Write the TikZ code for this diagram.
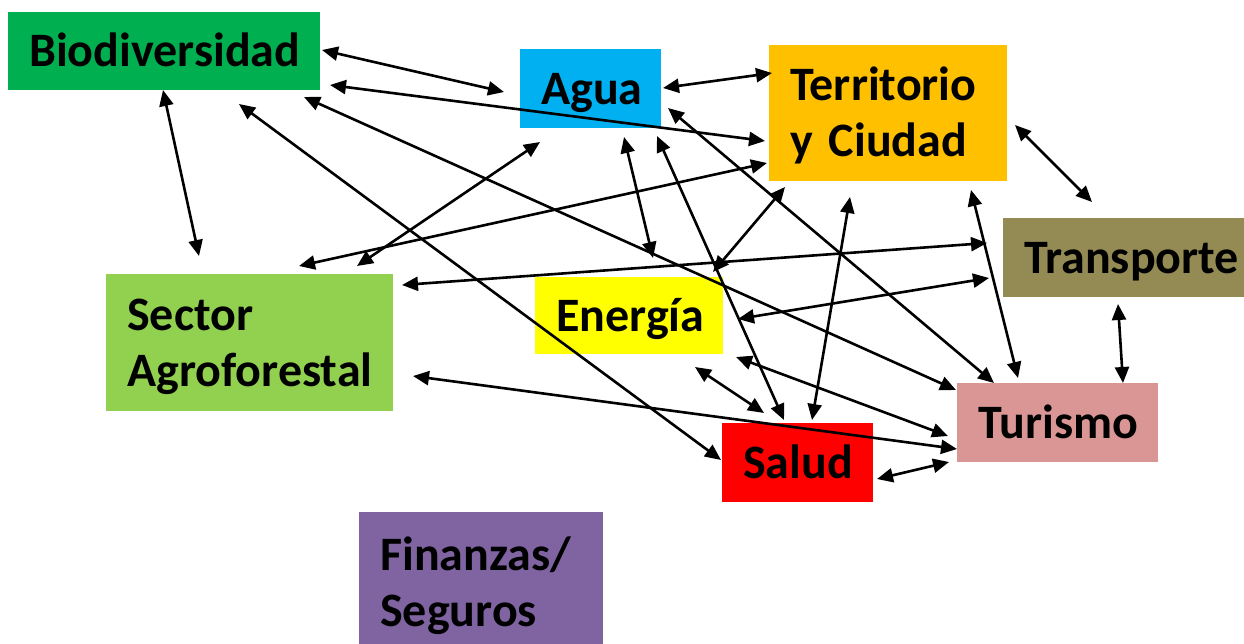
\documentclass[tikz,border=0pt]{standalone}
\usepackage{fontspec}
\setmainfont{Carlito}
\usetikzlibrary{arrows.meta}
\definecolor{cbio}{HTML}{00B050}
\definecolor{cagua}{HTML}{00B0F0}
\definecolor{cterr}{HTML}{FFC000}
\definecolor{ctrans}{HTML}{948A54}
\definecolor{csect}{HTML}{92D050}
\definecolor{cener}{HTML}{FFFF00}
\definecolor{ctur}{HTML}{DA9694}
\definecolor{csal}{HTML}{FF0000}
\definecolor{cfin}{HTML}{8064A2}
\tikzset{
  box/.style={rectangle, anchor=north west, inner xsep=21pt, inner ysep=0pt,
    align=left, font=\fontsize{48}{56}\selectfont\bfseries,
    text height=31pt, text depth=0pt},
  twoline/.style={text depth=56pt},
  arr/.style={{Triangle[length=16pt,width=14pt]}-{Triangle[length=16pt,width=14pt]}, line width=2.6pt, black}
}
\begin{document}
\begin{tikzpicture}[x=1pt,y=-1pt]
\useasboundingbox (0,0) rectangle (1244,643);
% boxes
\node[box, fill=cbio, minimum width=312pt, minimum height=78pt, text width=270pt] (bio) at (8,12) {Biodiversidad};
\node[box, fill=cagua, minimum width=141pt, minimum height=79pt, text width=99pt] (agua) at (520,49) {Agua};
\node[box, fill=cterr, twoline, minimum width=238pt, minimum height=136pt, text width=196pt] (terr) at (769,45) {Territorio\\y Ciudad};
\node[box, fill=ctrans, minimum width=260pt, minimum height=79pt, text width=218pt] (trans) at (1003,218) {Transporte};
\node[box, fill=csect, twoline, minimum width=287pt, minimum height=137pt, text width=245pt] (sect) at (106,274) {Sector\\Agroforestal};
\node[box, fill=cener, minimum width=188pt, minimum height=77pt, text width=146pt] (ener) at (535,277) {Energía};
\node[box, fill=ctur, minimum width=201pt, minimum height=79pt, text width=159pt] (tur) at (957,383) {Turismo};
\node[box, fill=csal, minimum width=151pt, minimum height=79pt, text width=109pt] (sal) at (722,423) {Salud};
\node[box, fill=cfin, twoline, minimum width=244pt, minimum height=141pt, text width=202pt] (fin) at (359,512) {Finanzas/\\Seguros};
% connectors
\draw[arr] (322,50) -- (504,92);
\draw[arr] (330,85) -- (765,141);
\draw[arr] (163,90) -- (199,256);
\draw[arr] (239,104) -- (721,460);
\draw[arr] (304,97) -- (956,390);
\draw[arr] (663,88) -- (772,73);
\draw[arr] (540,142) -- (357,266);
\draw[arr] (624,137) -- (653,258);
\draw[arr] (657,136) -- (784,420);
\draw[arr] (668,108) -- (994,383);
\draw[arr] (767,163) -- (299,266);
\draw[arr] (785,187) -- (713,272);
\draw[arr] (850,197) -- (812,420);
\draw[arr] (971,190) -- (1018,378);
\draw[arr] (1015,125) -- (1092,202);
\draw[arr] (987,243) -- (402,285);
\draw[arr] (989,278) -- (738,319);
\draw[arr] (1118,304) -- (1123,383);
\draw[arr] (695,367) -- (764,413);
\draw[arr] (736,357) -- (948,436);
\draw[arr] (413,376) -- (957,449);
\draw[arr] (877,479) -- (949,462);
\end{tikzpicture}
\end{document}
